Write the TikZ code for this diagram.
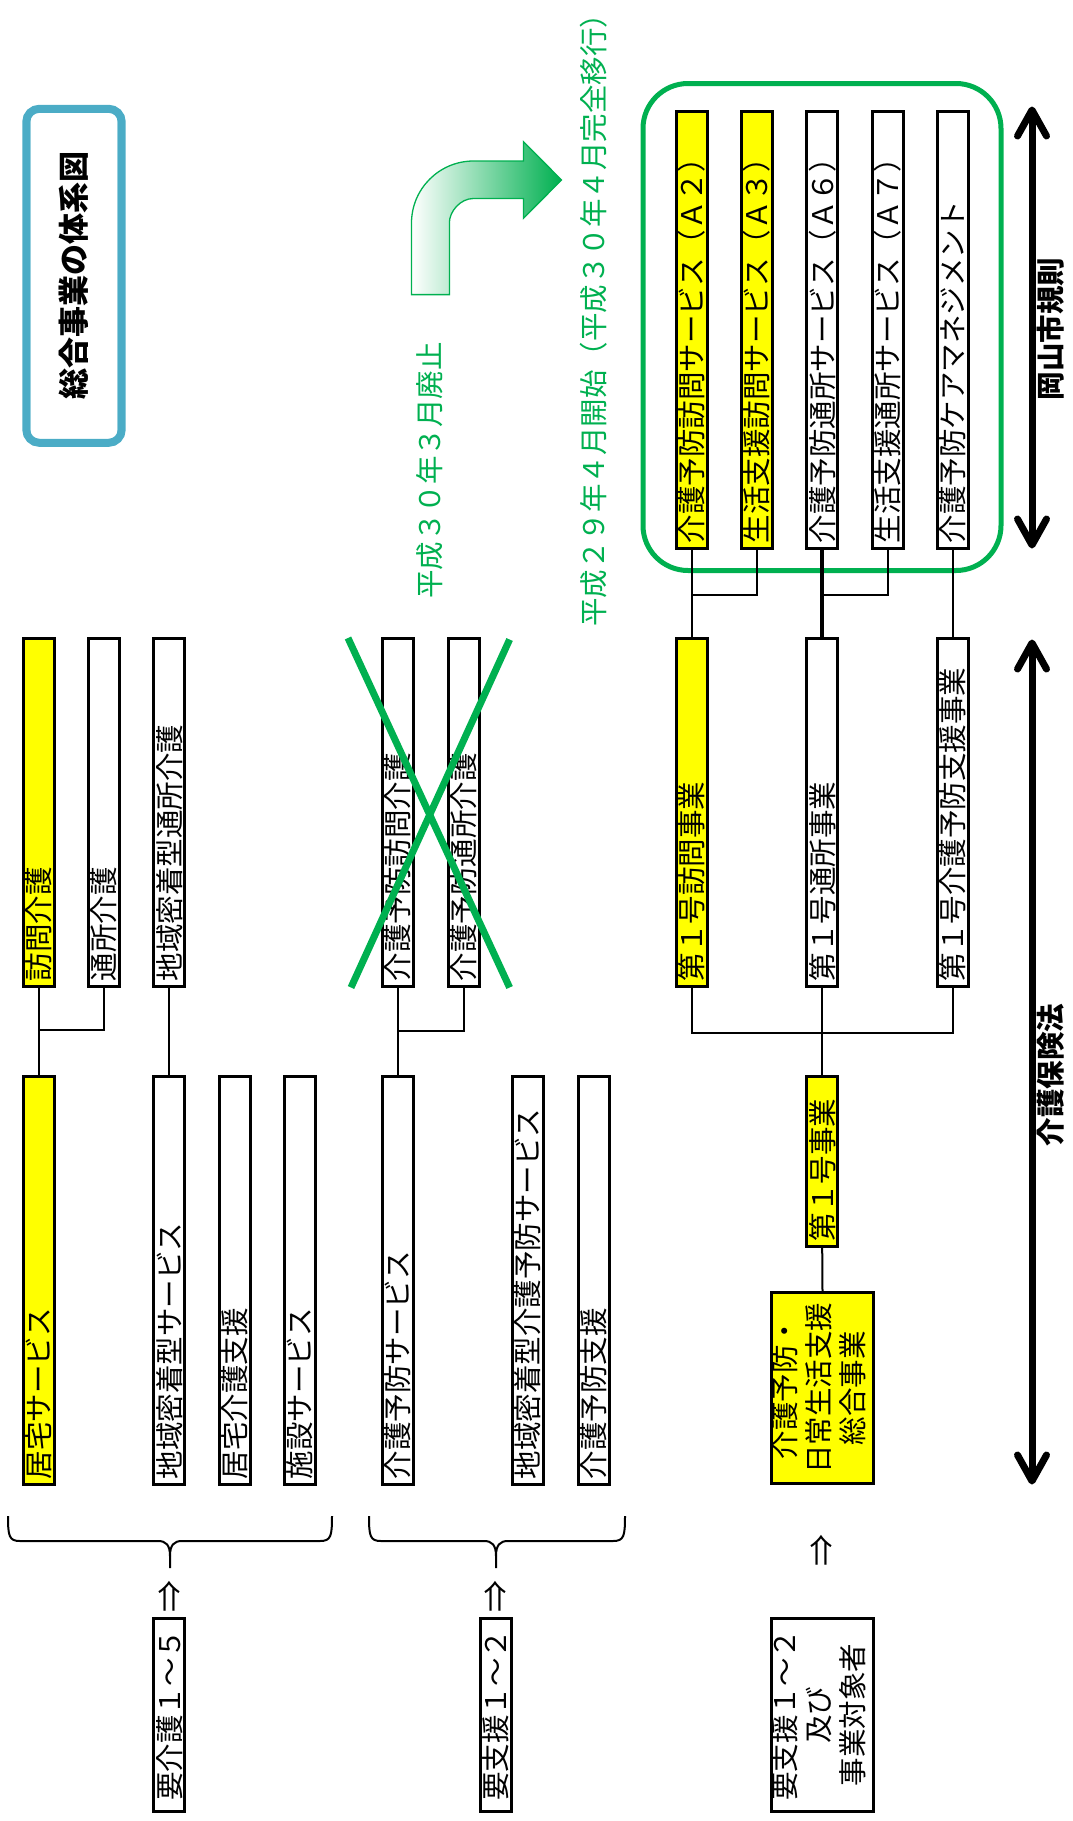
\documentclass[tikz,border=0pt]{standalone}
\usepackage{fontspec}
\usepackage{graphicx}
\newfontfamily\jp{Noto Sans CJK JP}
\usetikzlibrary{calc}
\definecolor{grn}{HTML}{00B050}
\definecolor{ttlblue}{HTML}{4BACC6}
\definecolor{ylw}{HTML}{FFFF00}
\newcommand{\vtxt}[2]{\rotatebox{90}{\makebox[#1][l]{#2}}}
\newcommand{\vctr}[1]{\rotatebox{90}{\begin{tabular}{@{}c@{}}#1\end{tabular}}}
\newcommand{\jpf}{\jp\fontsize{28.5pt}{34pt}\selectfont}
\begin{document}
\begin{tikzpicture}[x=1pt,y=-1pt,
  bx/.style={draw, line width=3pt, inner sep=0pt, minimum width=31pt, font=\jpf, fill=white},
  yb/.style={bx, fill=ylw},
  r1/.style={minimum height=348pt},
  r2/.style={minimum height=408pt},
  rg/.style={minimum height=437pt},
  ln/.style={line width=2pt},
  lnb/.style={line width=3.5pt},
  gtxt/.style={text=grn, font=\jpf, inner sep=0pt, anchor=south},
  lbl/.style={font=\jpf\bfseries, inner sep=0pt},
  uparr/.style={font=\jp\fontsize{32pt}{36pt}\selectfont, inner sep=0pt},
  dbl/.style={line width=7pt, line cap=round, line join=round},
  brc/.style={line width=2pt},
  xline/.style={grn, line width=7pt},
]
\useasboundingbox (0,0) rectangle (1072,1821);

% title
\node[draw=ttlblue, line width=8pt, rounded corners=13pt, minimum width=95.4pt, minimum height=334pt, inner sep=0pt,
  font=\jp\fontsize{31pt}{36pt}\selectfont\bfseries] (title) at (74,275.8) {\rotatebox{90}{総合事業の体系図}};
\draw[ttlblue, line width=1.7pt, rounded corners=8pt] ($(title.north west)+(7.2,6.9)$) rectangle ($(title.south east)+(-7.2,-6.9)$);

% bent arrow
\draw[grn, line width=1.3pt, left color=white, right color=grn]
  (411.5,294.6) -- (411.5,223) .. controls (411.5,188.8) and (439.3,161) .. (473.5,161)
  -- (523.4,161) -- (523.4,141.6) -- (561.5,180) -- (523.4,218.3) -- (523.4,198.5)
  -- (473.4,198.5) .. controls (460.1,198.5) and (449.4,211.8) .. (449.4,222.5)
  -- (449.4,294.6) -- cycle;

% green texts
\node[gtxt] (haishi) at (430,599) {\rotatebox{90}{平成３０年３月廃止}};
\node[gtxt] (kaishi) at (594,627) {\rotatebox{90}{平成２９年４月開始（平成３０年４月完全移行）}};

% green group frame
\node[draw=grn, line width=5pt, rounded corners=45pt, minimum width=358pt, minimum height=487pt, inner sep=0pt] (grp) at (822,327) {};

% row 1
\node[yb, r1] (houmon) at (39,812) {\vtxt{338pt}{訪問介護}};
\node[bx, r1] (tsusho) at (104,812) {\vtxt{338pt}{通所介護}};
\node[bx, r1] (chts) at (169.4,812) {\vtxt{338pt}{地域密着型通所介護}};
\node[bx, r1] (ybh) at (397.8,812) {\vtxt{338pt}{介護予防訪問介護}};
\node[bx, r1] (ybt) at (463.5,812) {\vtxt{338pt}{介護予防通所介護}};

% row 2
\node[yb, r2] (kyo) at (39,1280) {\vtxt{398pt}{居宅サービス}};
\node[bx, r2] (chs) at (169.4,1280) {\vtxt{398pt}{地域密着型サービス}};
\node[bx, r2] (kys) at (235,1280) {\vtxt{398pt}{居宅介護支援}};
\node[bx, r2] (shi) at (299.5,1280) {\vtxt{398pt}{施設サービス}};
\node[bx, r2] (ybs) at (397.8,1280) {\vtxt{398pt}{介護予防サービス}};
\node[bx, r2] (chy) at (528,1280) {\vtxt{398pt}{地域密着型介護予防サービス}};
\node[bx, r2] (ybsh) at (594,1280) {\vtxt{398pt}{介護予防支援}};

% group boxes
\node[yb, rg] (a2) at (691.5,329.5) {\vtxt{427pt}{介護予防訪問サービス（Ａ２）}};
\node[yb, rg] (a3) at (756.8,329.5) {\vtxt{427pt}{生活支援訪問サービス（Ａ３）}};
\node[bx, rg] (a6) at (822.2,329.5) {\vtxt{427pt}{介護予防通所サービス（Ａ６）}};
\node[bx, rg] (a7) at (887.8,329.5) {\vtxt{427pt}{生活支援通所サービス（Ａ７）}};
\node[bx, rg] (cm) at (953,329.5) {\vtxt{427pt}{介護予防ケアマネジメント}};

% dai 1 go
\node[yb, r1] (d1h) at (691.5,812) {\vtxt{338pt}{第１号訪問事業}};
\node[bx, r1] (d1t) at (822.2,812) {\vtxt{338pt}{第１号通所事業}};
\node[bx, r1] (d1c) at (953,812) {\vtxt{338pt}{第１号介護予防支援事業}};
\node[yb, minimum height=170pt] (d1) at (822.2,1161) {\vtxt{160pt}{第１号事業}};
\node[yb, minimum width=96pt, minimum height=191.5pt] (sogo) at (822.5,1388) {\vctr{介護予防・\\日常生活支援\\総合事業}};
\node[bx, minimum width=96pt, minimum height=193pt] (taisho) at (822.5,1715) {\vctr{要支援１～２\\及び\\事業対象者}};
\node[bx, minimum height=193pt] (ykg) at (169.4,1715) {\rotatebox{90}{要介護１～５}};
\node[bx, minimum height=193pt] (ysh) at (496,1715) {\rotatebox{90}{要支援１～２}};

% up arrows
\node[uparr] (ar1) at (170,1596) {\rotatebox{90}{⇒}};
\node[uparr] (ar2) at (496,1596) {\rotatebox{90}{⇒}};
\node[uparr] (ar3) at (822.5,1550) {\rotatebox{90}{⇒}};

% connectors
\coordinate (j1) at (39,1030);
\coordinate (j2) at (397.8,1031);
\coordinate (j3) at (691.5,595);
\coordinate (j4) at (822.2,595);
\draw[ln] (houmon.south) -- (kyo.north);
\draw[ln] (tsusho.south) |- (j1);
\draw[ln] (chts.south) -- (chs.north);
\draw[ln] (ybh.south) -- (ybs.north);
\draw[ln] (ybt.south) |- (j2);
\draw[ln] (a2.south) -- (d1h.north);
\draw[ln] (a3.south) |- (j3);
\draw[lnb] (a6.south) -- (d1t.north);
\draw[ln] (a7.south) |- (j4);
\draw[ln] (cm.south) -- (d1c.north);
\draw[ln] (d1h.south) -- ++(0,45.5) -| (d1c.south);
\draw[ln] (d1t.south) -- (d1.north);
\draw[ln] (d1.south) -- (sogo.north);

% green cross
\draw[xline] (348,638) -- (509.6,987.5);
\draw[xline] (509.6,639.5) -- (351,987.5);

% braces
\draw[brc] (8,1516) .. controls (8,1536) and (9,1541) .. (20,1541) -- (158,1541) .. controls (166,1541) and (170,1545) .. (170,1556) -- (170,1568);
\draw[brc] (332,1516) .. controls (332,1536) and (331,1541) .. (320,1541) -- (182,1541) .. controls (174,1541) and (170,1545) .. (170,1556);
\draw[brc] (369,1516) .. controls (369,1536) and (370,1541) .. (381,1541) -- (484,1541) .. controls (492,1541) and (496,1545) .. (496,1556) -- (496,1568);
\draw[brc] (625,1516) .. controls (625,1536) and (624,1541) .. (613,1541) -- (508,1541) .. controls (500,1541) and (496,1545) .. (496,1556);

% double arrows
\coordinate (ok1) at (1032,110);
\coordinate (ok2) at (1032,545);
\draw[line width=7pt] ($(ok1)+(0,4)$) -- ($(ok2)+(0,-4)$);
\draw[dbl] ($(ok1)+(-14.5,26)$) -- (ok1) -- ($(ok1)+(14.5,26)$);
\draw[dbl] ($(ok2)+(-14.5,-26)$) -- (ok2) -- ($(ok2)+(14.5,-26)$);
\coordinate (kh1) at (1032,643);
\coordinate (kh2) at (1032,1481);
\draw[line width=7pt] ($(kh1)+(0,4)$) -- ($(kh2)+(0,-4)$);
\draw[dbl] ($(kh1)+(-14.5,26)$) -- (kh1) -- ($(kh1)+(14.5,26)$);
\draw[dbl] ($(kh2)+(-14.5,-26)$) -- (kh2) -- ($(kh2)+(14.5,-26)$);
\node[lbl] (okr) at (1051,329) {\rotatebox{90}{岡山市規則}};
\node[lbl] (kho) at (1051,1075) {\rotatebox{90}{介護保険法}};
\end{tikzpicture}
\end{document}
